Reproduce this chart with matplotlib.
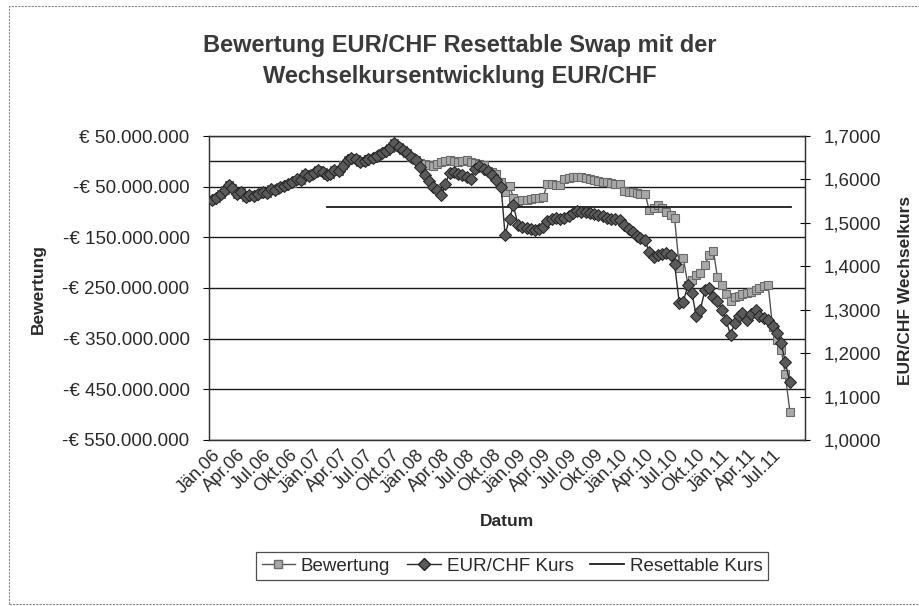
import matplotlib
matplotlib.use("Agg")
import matplotlib.pyplot as plt
import matplotlib.transforms as mtransforms
from matplotlib.patches import Rectangle
from matplotlib.lines import Line2D
import numpy as np
import pandas as pd

plt.rcParams['font.family'] = ['Liberation Sans', 'DejaVu Sans']

# Halbmonatswerte Jan 2006 - Sep 2011
datum = pd.date_range('2006-01-01', periods=137, freq='SMS')

eur_chf = [
    1.553, 1.558, 1.567, 1.575, 1.587, 1.580, 1.566, 1.570, 1.560, 1.565,
    1.562, 1.566, 1.570, 1.568, 1.577, 1.575, 1.583, 1.586, 1.590, 1.593,
    1.600, 1.598, 1.612, 1.608, 1.615, 1.621, 1.617, 1.610, 1.613, 1.622,
    1.620, 1.632, 1.645, 1.650, 1.647, 1.640, 1.643, 1.648, 1.650, 1.655,
    1.660, 1.665, 1.672, 1.684, 1.675, 1.668, 1.661, 1.652, 1.645, 1.628,
    1.610, 1.596, 1.583, 1.575, 1.564, 1.590, 1.615, 1.618, 1.612, 1.610,
    1.606, 1.600, 1.625, 1.630, 1.625, 1.620, 1.610, 1.598, 1.583, 1.472,
    1.510, 1.540, 1.495, 1.490, 1.488, 1.486, 1.483, 1.485, 1.490, 1.505,
    1.510, 1.512, 1.508, 1.512, 1.515, 1.522, 1.528, 1.526, 1.524, 1.522,
    1.520, 1.517, 1.515, 1.512, 1.510, 1.508, 1.506, 1.495, 1.485, 1.478,
    1.470, 1.466, 1.460, 1.432, 1.422, 1.426, 1.428, 1.430, 1.425, 1.405,
    1.315, 1.318, 1.357, 1.338, 1.285, 1.300, 1.345, 1.350, 1.330, 1.320,
    1.300, 1.276, 1.241, 1.270, 1.285, 1.292, 1.276, 1.290, 1.299, 1.285,
    1.280, 1.276, 1.262, 1.246, 1.223, 1.180, 1.133,
]

# Bewertung in Mio. EUR
bewertung = [
    -76, -72, -64, -57, -47, -53, -65, -61, -70, -66,
    -68, -65, -61, -63, -55, -57, -50, -48, -44, -42,
    -36, -37, -25, -29, -23, -18, -21, -27, -25, -17,
    -19, -8, 3, 7, 5, -1, 1, 5, 7, 11,
    16, 20, 26, 36, 29, 23, 17, 9, 3, -3,
    -6, -8, -10, -6, -2, 0, 2, 0, -2, 1,
    2, -1, -3, -6, -8, -20, -22, -25, -40, -60,
    -48, -72, -78, -76, -76, -74, -73, -72, -70, -45,
    -44, -46, -47, -35, -32, -30, -30, -30, -32, -35,
    -36, -38, -40, -40, -42, -44, -45, -58, -60, -61,
    -62, -64, -65, -96, -92, -86, -92, -100, -106, -112,
    -210, -190, -244, -235, -225, -220, -205, -185, -176, -228,
    -245, -262, -275, -268, -266, -262, -260, -258, -254, -250,
    -246, -244, -327, -352, -372, -420, -494,
]

reset_datum = pd.to_datetime(['2007-02-18', '2011-09-05'])
reset_kurs = [1.537, 1.537]

tick_datum = pd.date_range('2006-01-01', '2011-07-01', freq='QS')
tick_text = ['Jän.06', 'Apr.06', 'Jul.06', 'Okt.06', 'Jän.07', 'Apr.07', 'Jul.07', 'Okt.07',
             'Jän.08', 'Apr.08', 'Jul.08', 'Okt.08', 'Jän.09', 'Apr.09', 'Jul.09', 'Okt.09',
             'Jän.10', 'Apr.10', 'Jul.10', 'Okt.10', 'Jän.11', 'Apr.11', 'Jul.11']

fig = plt.figure(figsize=(9.2, 6.06), dpi=100)
ax = fig.add_axes([209/920, 1-440/606, (805-209)/920, (440-136)/606])
ax2 = ax.twinx()

tc = '#2a2a2a'
fs = 13.5

# Bewertung (linke Achse)
ax.plot(datum, bewertung, color='#555555', lw=1.0, marker='s', ms=5.6,
        mfc='#a8a8a8', mec='#6a6a6a', mew=0.8, zorder=3)
ax.set_ylim(-550, 50)
ax.set_yticks(np.arange(50, -551, -100))

def eur_fmt(v, pos):
    s = f"{abs(v) * 1e6:,.0f}".replace(',', '.')
    return ('-€ ' if v < 0 else '€ ') + s

ax.yaxis.set_major_formatter(plt.FuncFormatter(eur_fmt))
ax.yaxis.grid(True, color='#1a1a1a', lw=1.0)
ax.axhline(0, color='#1a1a1a', lw=1.0)
ax.set_axisbelow(True)

ax.set_xlim(pd.Timestamp('2005-12-21'), pd.Timestamp('2011-10-25'))
ax.set_xticks(tick_datum)
ax.set_xticklabels(tick_text, rotation=45, ha='right', va='center', rotation_mode='anchor')
ax.tick_params(axis='x', length=0, labelsize=fs - 0.5, labelcolor=tc, pad=9)
ax.tick_params(axis='y', length=4, labelsize=fs, labelcolor=tc, pad=10)
verschiebung = mtransforms.ScaledTranslation(6/100, 0, fig.dpi_scale_trans)
for lbl in ax.get_xticklabels():
    lbl.set_transform(lbl.get_transform() + verschiebung)

# EUR/CHF (rechte Achse)
ax2.plot(datum, eur_chf, color='#2b2b2b', lw=1.0, marker='D', ms=5.8,
         mfc='#5a5a5a', mec='#222222', mew=0.7, zorder=4)
ax2.plot(reset_datum, reset_kurs, color='#1a1a1a', lw=1.3, zorder=2)
ax2.set_ylim(1.0, 1.7)
ax2.set_yticks(np.arange(1.0, 1.71, 0.1))
ax2.yaxis.set_major_formatter(plt.FuncFormatter(lambda v, p: f"{v:.4f}".replace('.', ',')))
ax2.tick_params(axis='y', direction='inout', length=7, labelsize=fs, labelcolor=tc, pad=10)

for a in (ax, ax2):
    for sp in a.spines.values():
        sp.set_color('#333333')
        sp.set_linewidth(0.9)

fig.text(0.5, 1-61/606, 'Bewertung EUR/CHF Resettable Swap mit der\nWechselkursentwicklung EUR/CHF',
         ha='center', va='center', fontsize=17, fontweight='bold', color='#3a3a3a', linespacing=1.45)
fig.text(38/920, 1-289/606, 'Bewertung', rotation=90, ha='center', va='center',
         fontsize=12.5, fontweight='bold', color=tc)
fig.text(906/920, 1-290/606, 'EUR/CHF Wechselkurs', rotation=90, ha='center', va='center',
         fontsize=12.5, fontweight='bold', color=tc)
fig.text(507/920, 1-521/606, 'Datum', ha='center', va='center',
         fontsize=12.5, fontweight='bold', color=tc)

handles = [
    Line2D([], [], color='#555555', lw=1.0, marker='s', ms=5.6, mfc='#a8a8a8', mec='#6a6a6a'),
    Line2D([], [], color='#2b2b2b', lw=1.0, marker='D', ms=5.8, mfc='#5a5a5a', mec='#222222'),
    Line2D([], [], color='#1a1a1a', lw=1.3),
]
leg = fig.legend(handles, ['Bewertung', 'EUR/CHF Kurs', 'Resettable Kurs'], ncol=3,
                 loc='center', bbox_to_anchor=(512/920, 1-566/606), fontsize=fs,
                 frameon=True, fancybox=False, edgecolor='#222222', handlelength=1.8,
                 handletextpad=0.3, columnspacing=0.9, borderpad=0.3, labelcolor=tc)
leg.get_frame().set_linewidth(0.9)

fig.patches.append(Rectangle((9/920, 2/606), 1.0, 598/606, transform=fig.transFigure,
                             fill=False, edgecolor='#888888', lw=0.8, ls=(0, (2, 1))))

fig.savefig('out.png', dpi=100)
